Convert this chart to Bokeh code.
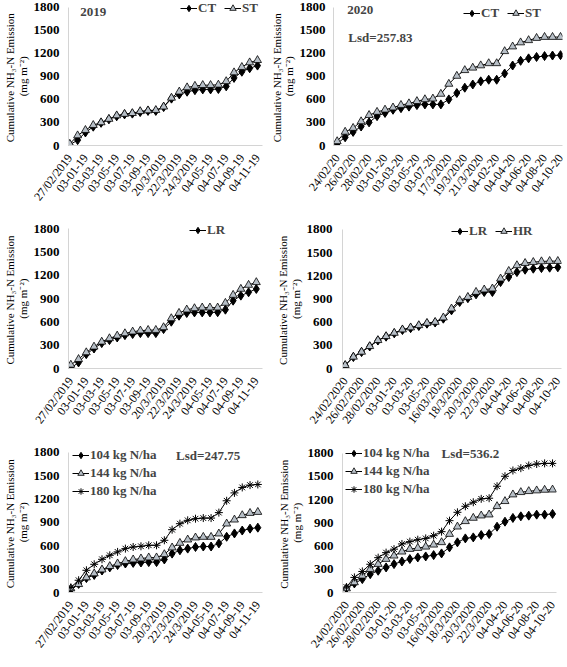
import numpy as np
from bokeh.plotting import figure
from bokeh.models import Range1d, FixedTicker, Legend, LegendItem, Label
from bokeh.core.properties import value
from bokeh.layouts import column, row
from bokeh.embed import file_html
from bokeh.resources import INLINE

# ---------------- data ----------------
ticks_2019 = ["27/02/2019", "03-01-19", "03-03-19", "03-05-19", "03-07-19", "03-09-19",
              "20/3/2019", "22/3/2019", "24/3/2019", "04-05-19", "04-07-19", "04-09-19", "04-11-19"]
ticks_2020a = ["24/02/20", "26/02/20", "28/02/20", "03-01-20", "03-03-20", "03-05-20", "03-07-20",
               "17/3/2020", "19/3/2020", "21/3/2020", "04-02-20", "04-04-20", "04-06-20", "04-08-20", "04-10-20"]
ticks_2020b = ["24/02/2020", "26/02/2020", "28/02/2020", "03-01-20", "03-03-20", "03-05-20",
               "16/03/2020", "18/3/2020", "20/3/2020", "22/3/2020", "04-04-20", "04-06-20", "04-08-20", "04-10-20"]

ct_2019 = [10, 70, 170, 245, 295, 340, 380, 405, 415, 435, 450, 450, 500, 610, 665, 700, 720, 730, 730, 735, 770, 880, 960, 1005, 1040]
st_2019 = [20, 130, 200, 265, 300, 345, 390, 410, 420, 445, 455, 460, 505, 620, 700, 755, 775, 785, 785, 790, 835, 950, 1020, 1080, 1110]

ct_2020 = [25, 107, 177, 247, 301, 382, 424, 465, 486, 506, 526, 535, 535, 535, 600, 683, 752, 794, 835, 856, 856, 937, 1041, 1102, 1134, 1152, 1164, 1171, 1176]
st_2020 = [54, 177, 227, 313, 395, 436, 465, 493, 526, 547, 576, 600, 609, 671, 801, 905, 979, 1011, 1041, 1069, 1069, 1226, 1287, 1340, 1369, 1398, 1411, 1411, 1411]

lr_2019 = [5, 78, 185, 258, 327, 366, 400, 430, 444, 456, 456, 456, 508, 603, 680, 715, 723, 723, 723, 725, 758, 874, 939, 982, 1025]
hr_2019 = [47, 120, 207, 280, 344, 388, 422, 452, 474, 487, 495, 495, 530, 646, 715, 758, 775, 784, 784, 784, 844, 947, 1025, 1076, 1111]

lr_2020 = [40, 148, 212, 285, 362, 412, 455, 498, 522, 550, 580, 595, 645, 753, 861, 910, 960, 990, 990, 1119, 1184, 1248, 1279, 1292, 1300, 1305, 1310]
hr_2020 = [43, 151, 215, 288, 366, 417, 460, 504, 530, 559, 589, 602, 659, 775, 882, 925, 990, 1021, 1034, 1163, 1261, 1335, 1364, 1377, 1386, 1390, 1390]

n104_2019 = [40, 110, 185, 225, 282, 322, 352, 372, 380, 385, 390, 390, 424, 499, 542, 563, 584, 590, 590, 630, 715, 758, 795, 819, 832]
n144_2019 = [51, 106, 192, 243, 294, 337, 371, 401, 422, 435, 448, 448, 490, 576, 635, 678, 704, 712, 712, 755, 883, 934, 990, 1019, 1032]
n180_2019 = [64, 157, 285, 362, 426, 477, 521, 563, 584, 593, 606, 606, 670, 806, 883, 926, 947, 955, 955, 1025, 1177, 1278, 1348, 1378, 1386]

n104_2020 = [52, 117, 173, 237, 281, 324, 367, 401, 432, 453, 466, 483, 505, 583, 648, 699, 712, 742, 755, 850, 915, 963, 984, 993, 1006, 1006, 1015]
n144_2020 = [52, 130, 216, 302, 367, 432, 475, 527, 561, 574, 591, 617, 648, 755, 850, 920, 963, 993, 1006, 1114, 1179, 1265, 1295, 1308, 1317, 1325, 1328]
n180_2020 = [70, 195, 272, 365, 450, 515, 560, 627, 657, 682, 699, 734, 786, 928, 1036, 1114, 1166, 1210, 1218, 1373, 1502, 1576, 1606, 1641, 1660, 1668, 1668]

y_ticks = [0, 300, 600, 900, 1200, 1500, 1800]
y_title = ["Cumulative  NH\u2083-N Emission", "(mg m\u207b\u00b2)"]

SERIF = "Liberation Serif"
TRI_FILL = "#b7bfc7"


def title_fig(w, h, bt, bb, y_end, xs):
    t = figure(width=w, height=h, output_backend="svg", toolbar_location=None,
               x_range=Range1d(0, w), y_range=Range1d(0, y_end),
               x_axis_type=None, y_axis_type=None,
               min_border_left=0, min_border_right=0, min_border_top=bt, min_border_bottom=bb)
    t.grid.visible = False
    t.outline_line_color = None
    mid = (y_ticks[0] + y_ticks[-1]) / 2
    t.text(x=xs, y=[mid, mid], text=y_title, angle=np.pi / 2,
           text_align="center", text_baseline="middle", text_color="black",
           text_font=value(SERIF), text_font_size="11px")
    return t


def make_panel(w, h, bl, br, bt, bb, y_end, tick_labels, npts, xr, ylab_off):
    p = figure(width=w, height=h, output_backend="svg", toolbar_location=None,
               x_range=Range1d(xr[0], npts - 1 + xr[1]), y_range=Range1d(0, y_end),
               min_border_left=bl, min_border_right=br, min_border_top=bt, min_border_bottom=bb)
    p.outline_line_color = None
    p.xgrid.visible = False
    p.ygrid.visible = False
    p.background_fill_color = "white"
    p.border_fill_color = "white"
    for ax in (p.xaxis[0], p.yaxis[0]):
        ax.axis_line_color = "#d4d4d4"
        ax.major_tick_line_color = None
        ax.minor_tick_line_color = None
        ax.major_label_text_font = SERIF
        ax.major_label_text_color = "black"
    p.yaxis.bounds = (0, 1800)
    p.yaxis.ticker = FixedTicker(ticks=y_ticks)
    p.yaxis.major_label_text_font_style = "bold"
    p.yaxis.major_label_text_font_size = "13px"
    p.yaxis.major_label_standoff = ylab_off
    ticks = list(range(0, npts, 2))
    p.xaxis.ticker = FixedTicker(ticks=ticks)
    p.xaxis.major_label_overrides = {t: lab for t, lab in zip(ticks, tick_labels)}
    p.xaxis.major_label_orientation = 0.92
    p.xaxis.major_label_text_font_size = "12px"
    p.xaxis.major_label_standoff = 4
    return p


def add_series(p, y, kind):
    x = list(range(len(y)))
    ln = p.line(x, y, line_color="black", line_width=1)
    if kind == "diamond":
        mk = p.scatter(x, y, marker="diamond", size=9, fill_color="black", line_color="black")
    elif kind == "triangle":
        mk = p.scatter(x, y, marker="triangle", size=8, fill_color=TRI_FILL, line_color="black", line_width=0.8)
    else:
        mk = p.scatter(x, y, marker="asterisk", size=8, line_color="black", line_width=1)
    return [ln, mk]


def add_legend(p, items, location, orientation):
    lg = Legend(items=[LegendItem(label=l, renderers=r) for l, r in items],
                location=location, orientation=orientation,
                border_line_color=None, background_fill_alpha=0,
                label_text_font=SERIF, label_text_font_style="bold", label_text_font_size="13px",
                glyph_width=17, glyph_height=16, label_height=16, label_standoff=1,
                spacing=6 if orientation == "horizontal" else 2, padding=0, margin=0)
    p.add_layout(lg)


def add_text(p, x, y, text, align="left"):
    p.add_layout(Label(x=x, y=y, text=text, text_font=SERIF, text_font_style="bold",
                       text_font_size="13px", text_baseline="middle", text_align=align))


# ---------------- row 1 ----------------
t1 = title_fig(30, 215, 0, 70, 1887, [9, 22])
p1 = make_panel(238, 215, 37, 6, 0, 70, 1887, ticks_2019, len(ct_2019), (-0.165, 0.64), 3)
r_ct = add_series(p1, ct_2019, "diamond")
r_st = add_series(p1, st_2019, "triangle")
add_legend(p1, [("CT", r_ct), ("ST", r_st)], "top_right", "horizontal")
add_text(p1, 3.0, 1743, "2019", "center")

t2 = title_fig(28, 215, 0, 70, 1887, [8, 20])
p2 = make_panel(271, 215, 37, 5, 0, 70, 1887, ticks_2020a, len(ct_2020), (-0.46, 0.25), 2)
r_ct2 = add_series(p2, ct_2020, "diamond")
r_st2 = add_series(p2, st_2020, "triangle")
add_legend(p2, [("CT", r_ct2), ("ST", r_st2)], (130, 124), "horizontal")
add_text(p2, 2.9, 1757, "2020", "center")
add_text(p2, 1.4, 1406, "Lsd=257.83")

# ---------------- row 2 ----------------
t3 = title_fig(30, 225, 5, 72, 1907, [9, 22])
p3 = make_panel(238, 225, 36, 6, 5, 72, 1907, ticks_2019, len(lr_2019), (-0.3, 0.8), 3)
r_lr = add_series(p3, lr_2019, "diamond")
add_series(p3, hr_2019, "triangle")
add_legend(p3, [("LR", r_lr)], (121, 130), "horizontal")

t4 = title_fig(35, 225, 5, 72, 1916, [14, 27])
p4 = make_panel(264, 225, 39, 6, 5, 72, 1916, ticks_2020b, len(lr_2020), (-0.33, 0.45), 4)
r_lr2 = add_series(p4, lr_2020, "diamond")
r_hr2 = add_series(p4, hr_2020, "triangle")
add_legend(p4, [("LR", r_lr2), ("HR", r_hr2)], (109, 129), "horizontal")

# ---------------- row 3 ----------------
t5 = title_fig(30, 227, 4, 75, 1899, [9, 22])
p5 = make_panel(238, 227, 36, 6, 4, 75, 1899, ticks_2019, len(n104_2019), (-0.3, 0.6), 3)
a1 = add_series(p5, n104_2019, "diamond")
a2 = add_series(p5, n144_2019, "triangle")
a3 = add_series(p5, n180_2019, "asterisk")
add_legend(p5, [("104 kg N/ha", a1), ("144 kg N/ha", a2), ("180 kg N/ha", a3)], (4, 93), "vertical")
add_text(p5, 13.5, 1758, "Lsd=247.75")

t6 = title_fig(36, 227, 4, 75, 1912, [15, 28])
p6 = make_panel(263, 227, 38, 11, 4, 75, 1912, ticks_2020b, len(n104_2020), (-0.5, 0.5), 3)
b1 = add_series(p6, n104_2020, "diamond")
b2 = add_series(p6, n144_2020, "triangle")
b3 = add_series(p6, n180_2020, "asterisk")
add_legend(p6, [("104 kg N/ha", b1), ("144 kg N/ha", b2), ("180 kg N/ha", b3)], (3, 95), "vertical")
add_text(p6, 12.0, 1796, "Lsd=536.2")

layout = column(row(t1, p1, t2, p2), row(t3, p3, t4, p4), row(t5, p5, t6, p6))
open("out.html", "w").write(file_html(layout, INLINE))
